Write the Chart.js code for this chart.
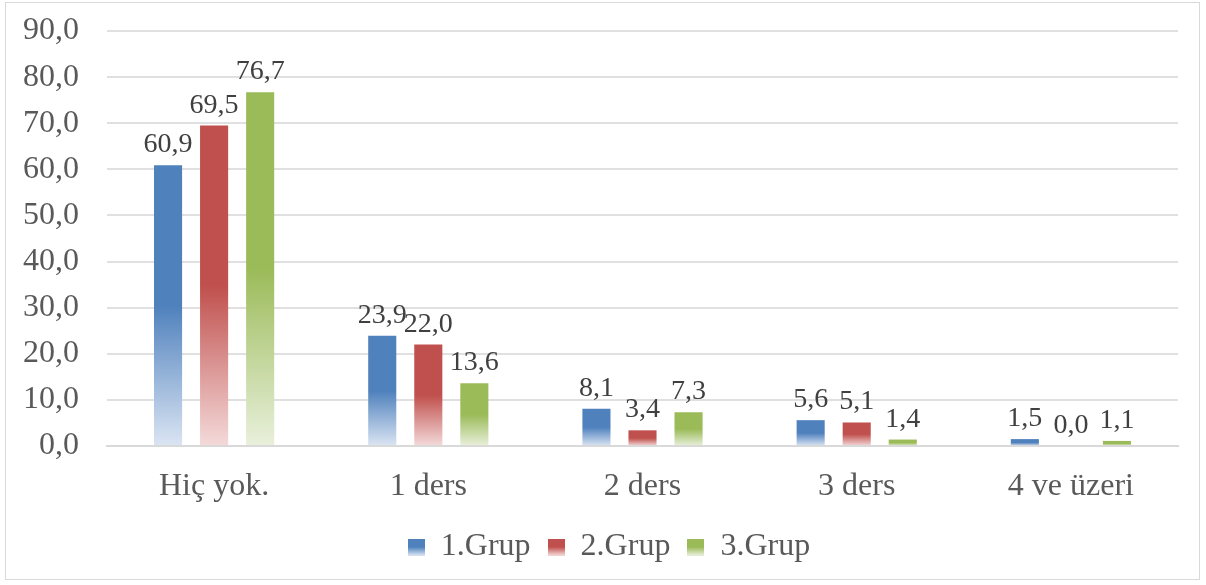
<!DOCTYPE html>
<html>
<head>
<meta charset="utf-8">
<script src="https://cdn.jsdelivr.net/npm/chart.js@4.4.1/dist/chart.umd.min.js"></script>
<style>
    html, body { margin: 0; padding: 0; background: #fff; }
    #wrap { width: 1206px; height: 585px; }
</style>
</head>
<body>
<div id="wrap"><canvas id="myChart" width="1206" height="585"></canvas></div>
<script>
// data
const categories = ['Hiç yok.', '1 ders', '2 ders', '3 ders', '4 ve üzeri'];
const group1 = [60.9, 23.9, 8.1, 5.6, 1.5];
const group2 = [69.5, 22.0, 3.4, 5.1, 0.0];
const group3 = [76.7, 13.6, 7.3, 1.4, 1.1];
const seriesNames = ['1.Grup', '2.Grup', '3.Grup'];
const yTicks = [0, 10, 20, 30, 40, 50, 60, 70, 80, 90];

const FONT = '"Liberation Serif", "Times New Roman", serif';

function fmt(v) {
    return v.toFixed(1).replace('.', ',');
}

// bar fill: solid top half, fading to a light tint at the base
function barGradient(base, light) {
    return function(c) {
        if (c.type !== 'data') return base;
        const chart = c.chart;
        const y = chart.scales.y;
        if (!y || !chart.chartArea) return base;
        const top = y.getPixelForValue(c.raw);
        const bot = y.getPixelForValue(0);
        if (bot - top < 1) return base;
        const g = chart.ctx.createLinearGradient(0, top, 0, bot);
        g.addColorStop(0, base);
        g.addColorStop(0.5, base);
        g.addColorStop(1, light);
        return g;
    };
}

function legendSwatch(base, light) {
    const cv = document.createElement('canvas');
    cv.width = 17;
    cv.height = 17;
    const cx = cv.getContext('2d');
    const g = cx.createLinearGradient(0, 0, 0, 17);
    g.addColorStop(0, base);
    g.addColorStop(0.5, base);
    g.addColorStop(1, light);
    cx.fillStyle = g;
    cx.fillRect(0, 0, 17, 17);
    return cv;
}

const colors = [
    ['#4f81bd', '#dbe5f3'],
    ['#c0504d', '#f4dada'],
    ['#9bbb59', '#e9f0dc']
];

const borderPlugin = {
    id: 'frame',
    beforeDraw(chart) {
        const ctx = chart.ctx;
        ctx.save();
        ctx.fillStyle = '#fff';
        ctx.fillRect(0, 0, chart.width, chart.height);
        ctx.strokeStyle = '#d9d9d9';
        ctx.lineWidth = 1;
        ctx.strokeRect(5.5, 2.5, 1194, 577);
        ctx.restore();
    }
};

// nudge the legend a bit to the right, like the original
const legendShift = {
    id: 'legendShift',
    afterLayout(chart) {
        if (chart.legend) {
            chart.legend.left += 15;
            chart.legend.right += 15;
        }
    }
};

const valueLabels = {
    id: 'valueLabels',
    afterDatasetsDraw(chart) {
        const ctx = chart.ctx;
        ctx.save();
        ctx.font = '28px ' + FONT;
        ctx.fillStyle = '#404040';
        ctx.textAlign = 'center';
        ctx.textBaseline = 'alphabetic';
        chart.data.datasets.forEach((ds, i) => {
            const meta = chart.getDatasetMeta(i);
            meta.data.forEach((bar, j) => {
                ctx.fillText(fmt(ds.data[j]), bar.x, bar.y - 13);
            });
        });
        ctx.restore();
    }
};

const datasets = [group1, group2, group3].map((values, i) => ({
    label: seriesNames[i],
    data: values,
    backgroundColor: barGradient(colors[i][0], colors[i][1]),
    pointStyle: legendSwatch(colors[i][0], colors[i][1]),
    barPercentage: 0.61,
    categoryPercentage: 0.645
}));

const ctx = document.getElementById('myChart').getContext('2d');
const myChart = new Chart(ctx, {
    type: 'bar',
    data: {
        labels: categories,
        datasets: datasets
    },
    options: {
        responsive: false,
        animation: false,
        layout: {
            padding: { left: 10, right: 28, top: 31, bottom: 12 }
        },
        plugins: {
            tooltip: { enabled: false },
            legend: {
                position: 'bottom',
                labels: {
                    usePointStyle: true,
                    boxWidth: 17,
                    boxHeight: 17,
                    pointStyleWidth: 17,
                    padding: 17,
                    color: '#595959',
                    font: { family: FONT, size: 32 }
                }
            }
        },
        scales: {
            x: {
                grid: { display: false, drawTicks: false },
                border: { display: true, color: '#d9d9d9', width: 2 },
                ticks: {
                    color: '#595959',
                    padding: 21,
                    font: { family: FONT, size: 32 }
                },
                afterFit(scale) {
                    scale.height = 68;
                    scale.paddingLeft = 0;
                    scale.paddingRight = 0;
                }
            },
            y: {
                min: 0,
                max: 90,
                afterBuildTicks(scale) {
                    scale.ticks = yTicks.map(v => ({ value: v }));
                },
                grid: { color: '#e0e0e0', lineWidth: 2, drawTicks: false },
                border: { display: false },
                ticks: {
                    color: '#595959',
                    padding: 28,
                    font: { family: FONT, size: 32 },
                    callback: function(value) {
                        return fmt(value);
                    }
                },
                afterFit(scale) {
                    scale.width = 97;
                    scale.paddingTop = 0;
                    scale.paddingBottom = 0;
                }
            }
        }
    },
    plugins: [borderPlugin, legendShift, valueLabels]
});
</script>
</body>
</html>
